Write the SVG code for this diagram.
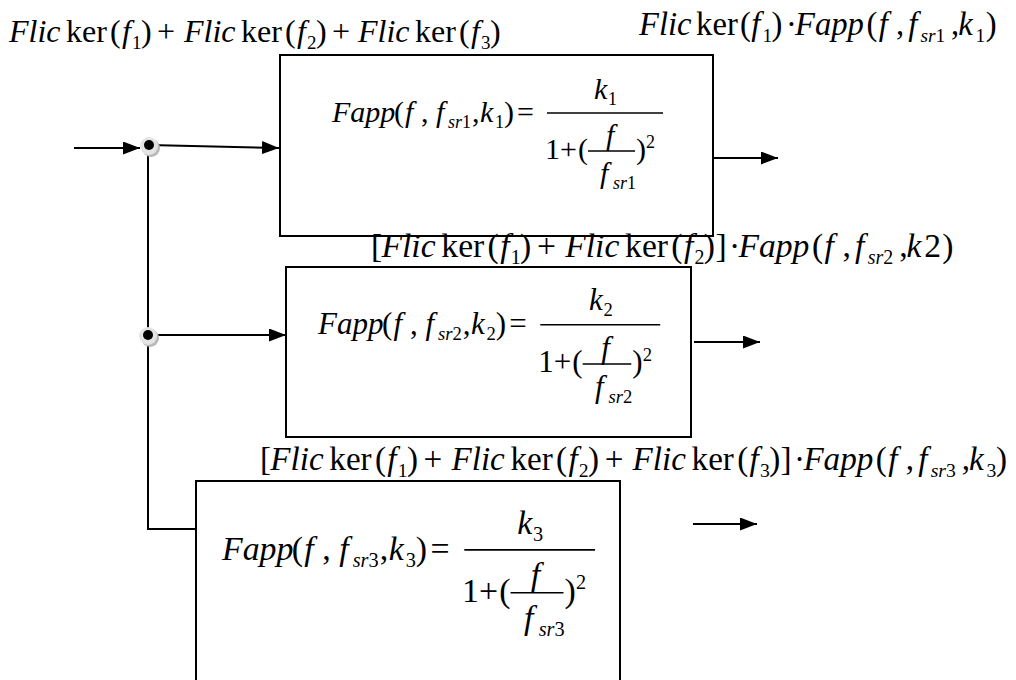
<svg xmlns="http://www.w3.org/2000/svg" width="1016" height="680" viewBox="0 0 1016 680">
<style>
text{font-family:"Liberation Serif","Times New Roman",serif;fill:#000}
.t{font-size:32px}
.m{font-size:30px}
.i{font-style:italic}
.s{font-size:19px}
.ss{font-size:18px}
.box{fill:#fff;stroke:#000;stroke-width:2}
.ln{fill:none;stroke:#000;stroke-width:2}
.bar{stroke:#000;stroke-width:1.4}
</style>
<defs>
<marker id="ah" markerUnits="userSpaceOnUse" markerWidth="17" markerHeight="13" refX="17" refY="6.5" orient="auto">
<path d="M0,0 L17,6.5 L0,13 z" fill="#000"/>
</marker>
<g id="halo">
<circle cx="2" cy="3" r="9" fill="#b8b8b8"/>
<circle cx="0" cy="1" r="9" fill="#e4e4e4"/>
<circle cx="0" cy="0" r="5" fill="#000"/>
</g>
</defs>
<rect width="1016" height="680" fill="#fff"/>

<g id="connectors">
<line class="ln" x1="74" y1="148" x2="140" y2="148" marker-end="url(#ah)"/>
<line class="ln" x1="149" y1="145" x2="279" y2="148" marker-end="url(#ah)"/>
<polyline class="ln" points="148,145 148,529 196,529"/>
<line class="ln" x1="148" y1="335" x2="286" y2="335" marker-end="url(#ah)"/>
<line class="ln" x1="713" y1="158" x2="778" y2="158" marker-end="url(#ah)"/>
<line class="ln" x1="694" y1="342" x2="760" y2="342" marker-end="url(#ah)"/>
<line class="ln" x1="693" y1="524" x2="757" y2="524" marker-end="url(#ah)"/>
</g>

<g id="junction1"><use href="#halo" x="149" y="145"/></g>
<g id="junction2"><use href="#halo" x="148" y="335"/></g>

<g id="box1">
<rect class="box" x="280" y="55" width="433" height="181"/>
<g transform="translate(332,122)">
<text class="m"><tspan class="i" x="0" y="0">Fapp</tspan><tspan x="62" y="0">(</tspan><tspan class="i" x="73" y="0">f</tspan><tspan x="89" y="0">,</tspan><tspan class="i" x="104" y="0">f</tspan><tspan class="ss i" x="116" y="6">sr</tspan><tspan class="ss">1</tspan><tspan x="140" y="0">,</tspan><tspan class="i" x="148" y="0">k</tspan><tspan class="ss" x="163" y="6">1</tspan><tspan x="172" y="0">)</tspan><tspan x="185" y="0">=</tspan></text>
<line class="bar" x1="215" y1="-9" x2="331" y2="-9"/>
<text class="m"><tspan class="i" x="262" y="-23">k</tspan><tspan class="ss" x="276" y="-17">1</tspan></text>
<text class="m"><tspan x="213" y="37">1</tspan><tspan x="228" y="37">+</tspan><tspan x="246" y="37">(</tspan><tspan class="i" x="274" y="23">f</tspan><tspan class="i" x="268" y="61">f</tspan><tspan class="ss i" x="281" y="67">sr</tspan><tspan class="ss">1</tspan><tspan x="304" y="37">)</tspan><tspan class="ss" x="314" y="26">2</tspan></text>
<line class="bar" x1="256" y1="29" x2="303" y2="29"/>
</g>
</g>

<g id="box2">
<rect class="box" x="286" y="267" width="405" height="170"/>
<g transform="translate(318,334) scale(1.034)">
<text class="m"><tspan class="i" x="0" y="0">Fapp</tspan><tspan x="62" y="0">(</tspan><tspan class="i" x="73" y="0">f</tspan><tspan x="89" y="0">,</tspan><tspan class="i" x="104" y="0">f</tspan><tspan class="ss i" x="116" y="6">sr</tspan><tspan class="ss">2</tspan><tspan x="140" y="0">,</tspan><tspan class="i" x="148" y="0">k</tspan><tspan class="ss" x="163" y="6">2</tspan><tspan x="172" y="0">)</tspan><tspan x="185" y="0">=</tspan></text>
<line class="bar" x1="215" y1="-9" x2="331" y2="-9"/>
<text class="m"><tspan class="i" x="262" y="-23">k</tspan><tspan class="ss" x="276" y="-17">2</tspan></text>
<text class="m"><tspan x="213" y="37">1</tspan><tspan x="228" y="37">+</tspan><tspan x="246" y="37">(</tspan><tspan class="i" x="274" y="23">f</tspan><tspan class="i" x="268" y="61">f</tspan><tspan class="ss i" x="281" y="67">sr</tspan><tspan class="ss">2</tspan><tspan x="304" y="37">)</tspan><tspan class="ss" x="314" y="26">2</tspan></text>
<line class="bar" x1="256" y1="29" x2="303" y2="29"/>
</g>
</g>

<g id="box3">
<rect class="box" x="196" y="481" width="424" height="220"/>
<g transform="translate(222,560) scale(1.127)">
<text class="m"><tspan class="i" x="0" y="0">Fapp</tspan><tspan x="62" y="0">(</tspan><tspan class="i" x="73" y="0">f</tspan><tspan x="89" y="0">,</tspan><tspan class="i" x="104" y="0">f</tspan><tspan class="ss i" x="116" y="6">sr</tspan><tspan class="ss">3</tspan><tspan x="140" y="0">,</tspan><tspan class="i" x="148" y="0">k</tspan><tspan class="ss" x="163" y="6">3</tspan><tspan x="172" y="0">)</tspan><tspan x="185" y="0">=</tspan></text>
<line class="bar" x1="215" y1="-9" x2="331" y2="-9"/>
<text class="m"><tspan class="i" x="262" y="-23">k</tspan><tspan class="ss" x="276" y="-17">3</tspan></text>
<text class="m"><tspan x="213" y="37">1</tspan><tspan x="228" y="37">+</tspan><tspan x="246" y="37">(</tspan><tspan class="i" x="274" y="23">f</tspan><tspan class="i" x="268" y="61">f</tspan><tspan class="ss i" x="281" y="67">sr</tspan><tspan class="ss">3</tspan><tspan x="304" y="37">)</tspan><tspan class="ss" x="314" y="26">2</tspan></text>
<line class="bar" x1="256" y1="29" x2="303" y2="29"/>
</g>
</g>

<g id="label-input">
<text class="t" transform="translate(9,42)"><tspan class="i" x="0" y="0">Flic</tspan><tspan x="57" y="0">ker</tspan><tspan x="101" y="0">(</tspan><tspan class="i" x="113" y="0">f</tspan><tspan class="s" x="123" y="7">1</tspan><tspan x="132" y="0">)</tspan><tspan x="148" y="0">+</tspan><tspan class="i" x="175" y="0">Flic</tspan><tspan x="232" y="0">ker</tspan><tspan x="276" y="0">(</tspan><tspan class="i" x="288" y="0">f</tspan><tspan class="s" x="298" y="7">2</tspan><tspan x="307" y="0">)</tspan><tspan x="323" y="0">+</tspan><tspan class="i" x="349" y="0">Flic</tspan><tspan x="406" y="0">ker</tspan><tspan x="450" y="0">(</tspan><tspan class="i" x="462" y="0">f</tspan><tspan class="s" x="472" y="7">3</tspan><tspan x="481" y="0">)</tspan></text>
</g>

<g id="label-out1">
<text class="t" transform="translate(639,35) scale(1.02)"><tspan class="i" x="0" y="0">Flic</tspan><tspan x="56" y="0">ker</tspan><tspan x="99" y="0">(</tspan><tspan class="i" x="110" y="0">f</tspan><tspan class="s" x="121" y="7">1</tspan><tspan x="130" y="0">)</tspan><tspan x="144" y="0">·</tspan><tspan class="i" x="153" y="0">Fapp</tspan><tspan x="223" y="0">(</tspan><tspan class="i" x="235" y="0">f</tspan><tspan x="252" y="0">,</tspan><tspan class="i" x="264" y="0">f</tspan><tspan class="s i" x="276" y="7">sr</tspan><tspan class="s">1</tspan><tspan x="306" y="0">,</tspan><tspan class="i" x="313" y="0">k</tspan><tspan class="s" x="330" y="7">1</tspan><tspan x="340" y="0">)</tspan></text>
</g>

<g id="label-out2">
<text class="t" transform="translate(371,257) scale(1.05)"><tspan x="0" y="0">[</tspan><tspan class="i" x="10" y="0">Flic</tspan><tspan x="67" y="0">ker</tspan><tspan x="111" y="0">(</tspan><tspan class="i" x="123" y="0">f</tspan><tspan class="s" x="133" y="7">1</tspan><tspan x="142" y="0">)</tspan><tspan x="158" y="0">+</tspan><tspan class="i" x="185" y="0">Flic</tspan><tspan x="242" y="0">ker</tspan><tspan x="286" y="0">(</tspan><tspan class="i" x="298" y="0">f</tspan><tspan class="s" x="308" y="7">2</tspan><tspan x="317" y="0">)</tspan><tspan x="328" y="0">]</tspan><tspan x="341" y="0">·</tspan><tspan class="i" x="350" y="0">Fapp</tspan><tspan x="420" y="0">(</tspan><tspan class="i" x="432" y="0">f</tspan><tspan x="449" y="0">,</tspan><tspan class="i" x="461" y="0">f</tspan><tspan class="s i" x="473" y="7">sr</tspan><tspan class="s">2</tspan><tspan x="503" y="0">,</tspan><tspan class="i" x="510" y="0">k</tspan><tspan x="527" y="0">2</tspan><tspan x="544" y="0">)</tspan></text>
</g>

<g id="label-out3">
<text class="t" transform="translate(260,470) scale(1.035)"><tspan x="0" y="0">[</tspan><tspan class="i" x="10" y="0">Flic</tspan><tspan x="67" y="0">ker</tspan><tspan x="111" y="0">(</tspan><tspan class="i" x="123" y="0">f</tspan><tspan class="s" x="133" y="7">1</tspan><tspan x="142" y="0">)</tspan><tspan x="158" y="0">+</tspan><tspan class="i" x="185" y="0">Flic</tspan><tspan x="242" y="0">ker</tspan><tspan x="286" y="0">(</tspan><tspan class="i" x="298" y="0">f</tspan><tspan class="s" x="308" y="7">2</tspan><tspan x="317" y="0">)</tspan><tspan x="333" y="0">+</tspan><tspan class="i" x="360" y="0">Flic</tspan><tspan x="417" y="0">ker</tspan><tspan x="461" y="0">(</tspan><tspan class="i" x="473" y="0">f</tspan><tspan class="s" x="483" y="7">3</tspan><tspan x="492" y="0">)</tspan><tspan x="503" y="0">]</tspan><tspan x="516" y="0">·</tspan><tspan class="i" x="525" y="0">Fapp</tspan><tspan x="595" y="0">(</tspan><tspan class="i" x="607" y="0">f</tspan><tspan x="624" y="0">,</tspan><tspan class="i" x="636" y="0">f</tspan><tspan class="s i" x="648" y="7">sr</tspan><tspan class="s">3</tspan><tspan x="678" y="0">,</tspan><tspan class="i" x="685" y="0">k</tspan><tspan class="s" x="702" y="7">3</tspan><tspan x="711" y="0">)</tspan></text>
</g>
</svg>
